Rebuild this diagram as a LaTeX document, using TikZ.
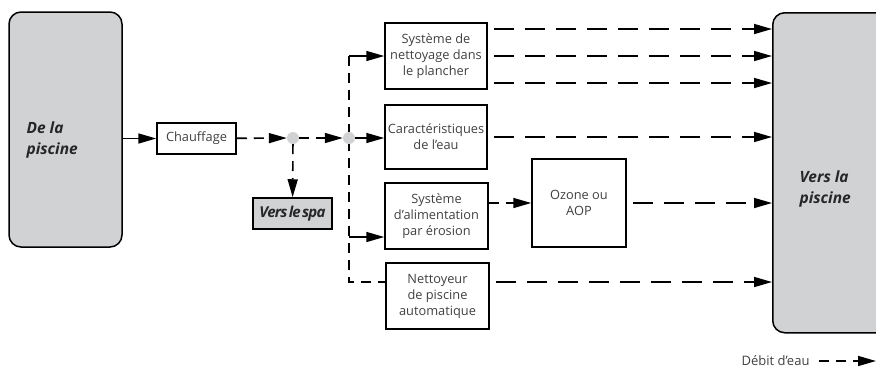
\documentclass[tikz,border=0pt]{standalone}
\usepackage{fontspec}
\setmainfont{Open Sans}
\newfontfamily\serree{Open Sans}[LetterSpace=-5, WordSpace=0.4]
\usetikzlibrary{arrows.meta}
\definecolor{gris}{HTML}{D1D2D4}
\definecolor{texte}{HTML}{404040}
\tikzset{
  boite/.style={draw, line width=1.5pt, text=texte, align=center, inner sep=2pt,
    font=\fontsize{12.8}{16}\selectfont},
  grise/.style={boite, fill=gris},
  point/.style={circle, fill=gris, minimum size=12pt, inner sep=0pt},
  fleche/.style={line width=1.6pt, -{Triangle[length=18pt,width=10pt]}},
  flux/.style={fleche, dash pattern=on 20pt off 11pt, dash phase=25pt},
  fluxcourt/.style={fleche, dash pattern=on 10pt off 7pt},
  gras/.style={font=\fontsize{15.5}{21}\selectfont\bfseries\itshape, text=black!85, align=left}
}
\begin{document}
\begin{tikzpicture}[x=1pt,y=-1pt]
\useasboundingbox (0,0) rectangle (876,368);
% les deux bassins
\node[grise, rounded corners=12pt, minimum width=113pt, minimum height=235pt] (depiscine) at (65.5,129.5) {};
\node[gras, anchor=west] (txtde) at (23,140) {De la\\piscine};
\node[grise, rounded corners=12pt, minimum width=140pt, minimum height=320pt, anchor=north west] (retour) at (772,12) {};
\node[gras, anchor=west] (txtvers) at (796,189) {Vers la\\piscine};
% equipements
\node[boite, minimum width=79pt, minimum height=31pt] (chauffage) at (196.5,138.5) {Chauffage};
\node[grise, minimum width=79pt, minimum height=31pt, text=black!85,
  font=\serree\fontsize{15}{16}\selectfont\bfseries\itshape] (spa) at (292.5,213.5) {Vers le spa};
\node[boite, minimum width=102pt, minimum height=66pt] (nettoyage) at (436,56) {Système de\\nettoyage dans\\le plancher};
\node[boite, minimum width=102pt, minimum height=64pt] (eau) at (436,137) {Caractéristiques\\de l’eau};
\node[boite, minimum width=103pt, minimum height=66pt] (erosion) at (436.5,216) {Système\\d’alimentation\\par érosion};
\node[boite, minimum width=94pt, minimum height=88pt] (ozone) at (579,203) {Ozone ou\\AOP};
\node[boite, minimum width=103pt, minimum height=66pt] (robot) at (437.5,296) {Nettoyeur\\de piscine\\automatique};
% conduite verticale
\coordinate (haut) at (349,56);
\coordinate (embr) at (349,237);
\coordinate (bas) at (349,282);
\draw[fluxcourt, -] (haut) -- (bas) -- (bas -| robot.west);
\draw[fleche] (haut) -- (nettoyage.west);
\draw[fleche] (embr) -- (embr -| erosion.west);
% raccords
\node[point] (p1) at (293,138) {};
\node[point] (p2) at (349,138) {};
\draw[fleche] (depiscine.east |- chauffage.west) -- (chauffage.west);
\draw[fluxcourt] (chauffage) -- (p1);
\draw[fluxcourt] (p1) -- (p2);
\draw[fluxcourt] (p1) -- (spa);
\draw[fleche] (p2) -- (p2 -| eau.west);
% retours vers la piscine
\foreach \dy [count=\i] in {27,0,-27} {
  \coordinate (n\i) at ([yshift=\dy pt]nettoyage.east);
  \draw[flux] (n\i) -- (n\i -| retour.west);
}
\draw[flux] (eau.east) -- (eau.east -| retour.west);
\draw[fluxcourt] (erosion.east |- ozone) -- (ozone.west);
\draw[flux] (ozone.east) -- (ozone.east -| retour.west);
\draw[flux] (robot.east |- bas) -- (bas -| retour.west);
% legende
\node[text=texte, font=\fontsize{13}{14}\selectfont, anchor=east] (legende) at (813,361) {Débit d’eau};
\coordinate (finleg) at (876,361);
\draw[fluxcourt] ([xshift=6pt]legende.east) -- (finleg);
\end{tikzpicture}
\end{document}
